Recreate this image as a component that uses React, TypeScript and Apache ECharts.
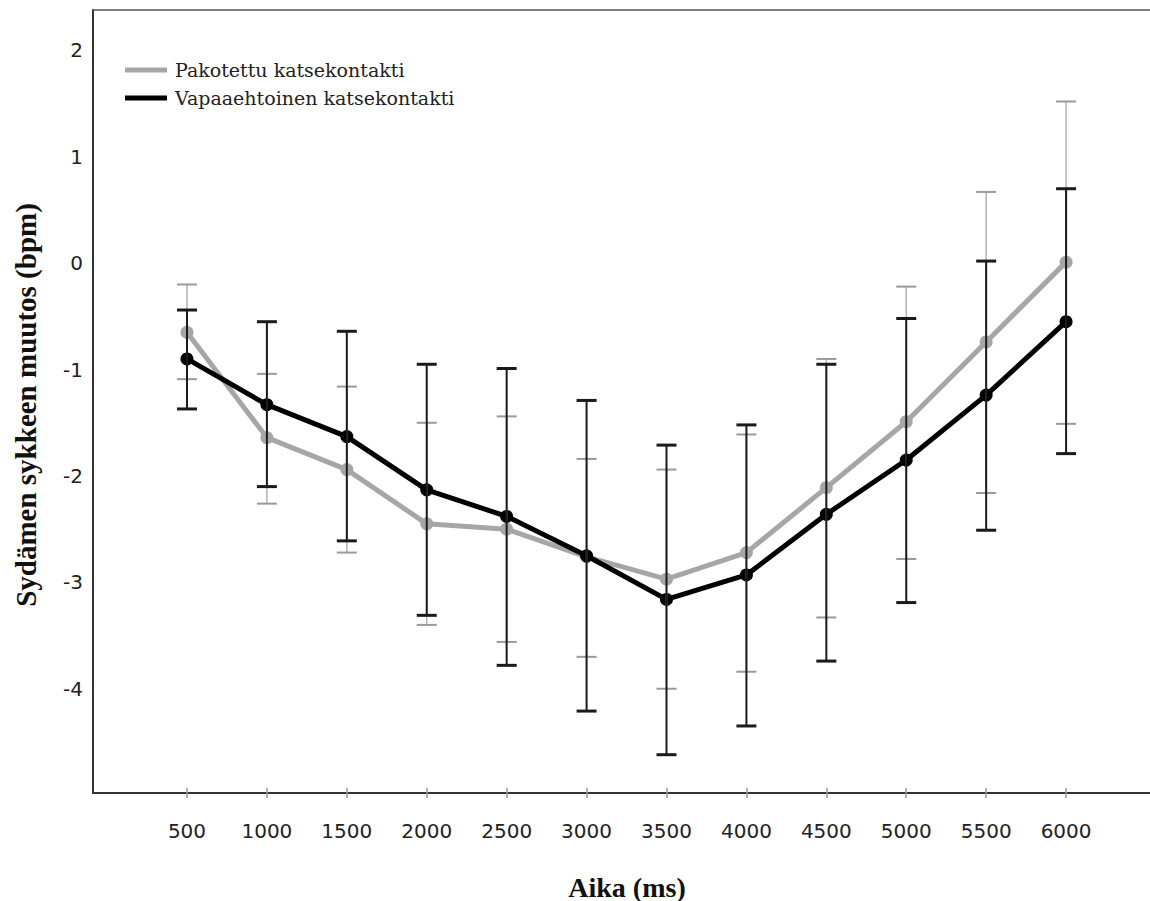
import React, { useEffect, useRef } from "react";
import * as echarts from "echarts";

// Time points (ms)
const times = [500, 1000, 1500, 2000, 2500, 3000, 3500, 4000, 4500, 5000, 5500, 6000];

// Pakotettu katsekontakti (grey)
const forcedMean = [-0.65, -1.64, -1.94, -2.45, -2.5, -2.76, -2.97, -2.72, -2.11, -1.49, -0.74, 0.01];
const forcedLow = [-1.09, -2.26, -2.72, -3.4, -3.56, -3.7, -4.0, -3.84, -3.33, -2.78, -2.16, -1.51];
const forcedHigh = [-0.2, -1.04, -1.16, -1.5, -1.44, -1.84, -1.94, -1.61, -0.9, -0.22, 0.67, 1.52];

// Vapaaehtoinen katsekontakti (black)
const freeMean = [-0.9, -1.33, -1.63, -2.13, -2.38, -2.75, -3.16, -2.93, -2.36, -1.85, -1.24, -0.55];
const freeLow = [-1.37, -2.1, -2.61, -3.31, -3.78, -4.21, -4.62, -4.35, -3.74, -3.19, -2.51, -1.79];
const freeHigh = [-0.44, -0.55, -0.64, -0.95, -0.99, -1.29, -1.71, -1.52, -0.95, -0.52, 0.02, 0.7];

const yTickLabels = [-4, -3, -2, -1, 0, 1, 2];

const seriesNames = ["Pakotettu katsekontakti", "Vapaaehtoinen katsekontakti"];
const xTitle = "Aika (ms)";
const yTitle = "Sydämen sykkeen muutos (bpm)";

const GREY = "#a6a6a6";
const BLACK = "#000000";

function errorBarSeries(low: number[], high: number[], stroke: string, capStroke: string, lw: number, capLw: number, z: number) {
  return {
    type: "custom",
    silent: true,
    z,
    xAxisIndex: 0,
    yAxisIndex: 0,
    encode: { x: 0, y: [1, 2] },
    data: times.map((t, i) => [t, low[i], high[i]]),
    renderItem: (params: any, api: any) => {
      const x = api.value(0);
      const lo = api.value(1);
      const hi = api.value(2);
      const pHi = api.coord([x, hi]);
      const pLo = api.coord([x, lo]);
      const w = 10;
      return {
        type: "group",
        children: [
          { type: "line", shape: { x1: pHi[0], y1: pHi[1], x2: pLo[0], y2: pLo[1] }, style: { stroke, lineWidth: lw } },
          { type: "line", shape: { x1: pHi[0] - w, y1: pHi[1], x2: pHi[0] + w, y2: pHi[1] }, style: { stroke: capStroke, lineWidth: capLw } },
          { type: "line", shape: { x1: pLo[0] - w, y1: pLo[1], x2: pLo[0] + w, y2: pLo[1] }, style: { stroke: capStroke, lineWidth: capLw } },
        ],
      };
    },
  };
}

export default function App() {
  const ref = useRef<HTMLDivElement>(null);

  useEffect(() => {
    if (!ref.current) return;
    const chart = echarts.init(ref.current, null, { renderer: "svg" });
    const sansFont = "DejaVu Sans";
    const serifFont = "DejaVu Serif";
    const titleFont = "Liberation Serif";
    const xMin = -88;
    const xMax = 6525;

    chart.setOption({
      animation: false,
      backgroundColor: "#ffffff",
      grid: {
        left: 93,
        top: 10,
        right: 0,
        bottom: 108,
        show: false,
      },
      legend: {
        orient: "vertical",
        left: 125,
        top: 59,
        padding: 0,
        icon: "rect",
        itemWidth: 42,
        itemHeight: 5,
        itemGap: 6,
        selectedMode: false,
        data: seriesNames,
        textStyle: {
          fontFamily: serifFont,
          fontSize: 19,
          lineHeight: 22,
          color: "#222222",
          padding: [0, 0, 0, 3],
        },
      },
      xAxis: [
        {
          type: "value",
          min: xMin,
          max: xMax,
          position: "bottom",
          splitLine: { show: false },
          axisLine: { show: true, onZero: false, lineStyle: { color: "#333333", width: 2 } },
          axisTick: {
            show: true,
            inside: false,
            length: 5,
            customValues: times,
            lineStyle: { color: "#999999", width: 1.5 },
          },
          axisLabel: {
            customValues: times,
            margin: 28,
            fontFamily: sansFont,
            fontSize: 20,
            color: "#222222",
            formatter: (v: number) => String(v),
          },
        },
        {
          type: "value",
          min: xMin,
          max: xMax,
          position: "bottom",
          splitLine: { show: false },
          axisLine: { show: false, onZero: false },
          axisTick: {
            show: true,
            inside: true,
            length: 5,
            customValues: times,
            lineStyle: { color: "#999999", width: 1.5 },
          },
          axisLabel: { show: false },
        },
        {
          type: "value",
          min: xMin,
          max: xMax,
          position: "top",
          splitLine: { show: false },
          axisLine: { show: true, onZero: false, lineStyle: { color: "#555555", width: 1.5 } },
          axisTick: { show: false },
          axisLabel: { show: false },
        },
      ],
      yAxis: {
        type: "value",
        min: -4.98,
        max: 2.38,
        splitLine: { show: false },
        axisLine: { show: true, onZero: false, lineStyle: { color: "#333333", width: 2 } },
        axisTick: { show: false },
        axisLabel: {
          customValues: yTickLabels,
          margin: 10,
          fontFamily: sansFont,
          fontSize: 20,
          color: "#222222",
          formatter: (v: number) => String(v),
        },
      },
      graphic: [
        {
          type: "text",
          x: 627,
          y: 887,
          style: {
            text: xTitle,
            font: `bold 28px "${titleFont}"`,
            fill: "#111111",
            textAlign: "center",
            textVerticalAlign: "middle",
          },
        },
        {
          type: "text",
          x: 26,
          y: 405,
          rotation: Math.PI / 2,
          style: {
            text: yTitle,
            font: `bold 29px "${titleFont}"`,
            fill: "#111111",
            textAlign: "center",
            textVerticalAlign: "middle",
          },
        },
      ],
      series: [
        {
          name: seriesNames[0],
          type: "line",
          z: 2,
          data: times.map((t, i) => [t, forcedMean[i]]),
          symbol: "circle",
          symbolSize: 13,
          lineStyle: { color: GREY, width: 5 },
          itemStyle: { color: GREY },
        },
        {
          name: seriesNames[1],
          type: "line",
          z: 3,
          data: times.map((t, i) => [t, freeMean[i]]),
          symbol: "circle",
          symbolSize: 13,
          lineStyle: { color: BLACK, width: 5 },
          itemStyle: { color: BLACK },
        },
        errorBarSeries(forcedLow, forcedHigh, "#b3b3b3", "#9a9a9a", 1.5, 2, 4),
        errorBarSeries(freeLow, freeHigh, "#1a1a1a", "#1a1a1a", 2, 3, 5),
      ],
    });

    return () => {
      chart.dispose();
    };
  }, []);

  return (
    <div
      ref={ref}
      style={{ position: "fixed", left: 0, top: 0, width: 1150, height: 901 }}
    />
  );
}
